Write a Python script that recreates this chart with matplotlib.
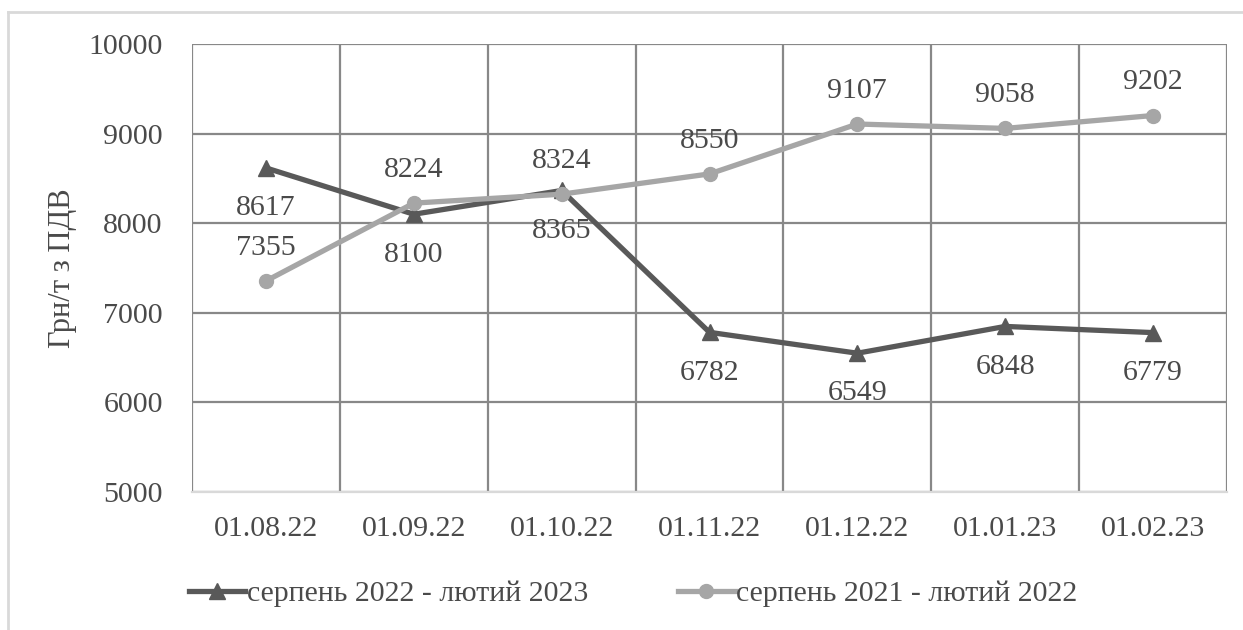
import matplotlib
matplotlib.use("Agg")
import matplotlib.pyplot as plt
from matplotlib.lines import Line2D

categories = ["01.08.22", "01.09.22", "01.10.22", "01.11.22", "01.12.22", "01.01.23", "01.02.23"]
series1_name = "серпень 2022 - лютий 2023"
series1 = [8617, 8100, 8365, 6782, 6549, 6848, 6779]
series2_name = "серпень 2021 - лютий 2022"
series2 = [7355, 8224, 8324, 8550, 9107, 9058, 9202]
y_ticks = [5000, 6000, 7000, 8000, 9000, 10000]
y_label = "Грн/т з ПДВ"

plt.rcParams['font.family'] = ['Liberation Serif', 'DejaVu Serif']
txt = '#4a4a4a'
dark = '#595959'
light = '#a6a6a6'
grid = '#888888'
fs = 21.5

fig = plt.figure(figsize=(12.43, 6.30), dpi=100)
ax = fig.add_axes([192/1243, 1-492/630, (1227-192)/1243, (492-44)/630])

x = list(range(len(categories)))
ax.plot(x, series1, color=dark, lw=3.8, marker='^', ms=11, zorder=3, solid_capstyle='round')
ax.plot(x, series2, color=light, lw=3.8, marker='o', ms=10, zorder=4, solid_capstyle='round')

for xi, v in zip(x, series1):
    ax.annotate(str(v), (xi, v), xytext=(0, -29), textcoords='offset points',
                ha='center', va='center', fontsize=fs, color=txt, zorder=5)
for xi, v in zip(x, series2):
    ax.annotate(str(v), (xi, v), xytext=(0, 24), textcoords='offset points',
                ha='center', va='center', fontsize=fs, color=txt, zorder=5)

ax.set_xlim(-0.5, len(categories) - 0.5)
ax.set_ylim(5000, 10000)
ax.set_yticks(y_ticks)
ax.set_yticklabels([str(t) for t in y_ticks])
ax.set_xticks(x)
ax.set_xticklabels(categories)
ax.set_xticks([i - 0.5 for i in range(len(categories) + 1)], minor=True)
ax.tick_params(axis='both', which='both', length=0, labelsize=fs, colors=txt)
ax.tick_params(axis='y', pad=21)
ax.tick_params(axis='x', pad=17)
ax.grid(axis='y', which='major', color=grid, lw=1.6, zorder=1)
ax.grid(axis='x', which='minor', color=grid, lw=1.6, zorder=1)
ax.grid(axis='x', which='major', visible=False)
for s in ['top', 'left', 'right']:
    ax.spines[s].set_visible(False)
ax.spines['bottom'].set_color('#d9d9d9')
ax.spines['bottom'].set_linewidth(1.6)
ax.spines['bottom'].set_zorder(2)

ax.set_ylabel(y_label, fontsize=fs + 0.5, color=txt, labelpad=8)

handles = [Line2D([], [], color=dark, lw=3.8, marker='^', ms=11),
           Line2D([], [], color=light, lw=3.8, marker='o', ms=10)]
fig.legend(handles, [series1_name, series2_name], loc='center', bbox_to_anchor=(633/1243, 1-594/630),
           ncol=2, frameon=False, fontsize=fs, handlelength=1.9, handletextpad=0.05,
           columnspacing=3.0, labelcolor=txt)

# outer border (partially visible)
fig.add_artist(Line2D([8/1243, 8/1243], [0, 1-12/630], transform=fig.transFigure, color='#d9d9d9', lw=2))
fig.add_artist(Line2D([8/1243, 1], [1-12/630, 1-12/630], transform=fig.transFigure, color='#d9d9d9', lw=2))

fig.savefig("out.png", dpi=100)
